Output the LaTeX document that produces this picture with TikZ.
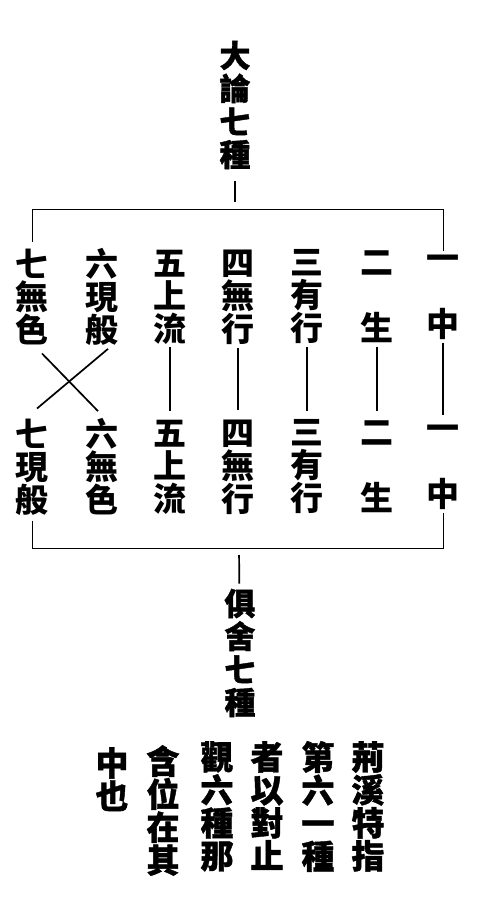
\documentclass[tikz,border=0pt]{standalone}
\usepackage{fontspec}
\newfontfamily\cjk{Noto Sans CJK TC}
\newfontfamily\cjkheavy[BoldFeatures={FakeBold=1.2}]{Noto Sans CJK TC}
\usetikzlibrary{positioning}
\setlength{\lineskiplimit}{-100pt}

\begin{document}
\begin{tikzpicture}[x=1pt, y=-1pt,
    word/.style={font=\cjk\bfseries\fontsize{33}{33}\selectfont, align=center, inner sep=0pt,
      execute at begin node=\vphantom{中}, execute at end node=\vphantom{中}},
    ttl/.style={word, font=\cjkheavy\bfseries\fontsize{31}{33}\selectfont},
    note/.style={word, font=\cjkheavy\bfseries\fontsize{33}{33}\selectfont, anchor=north},
    bar/.style={line width=1pt},
    link/.style={line width=1.7pt}]
    \useasboundingbox (0,0) rectangle (477,909);
    % Titles
    \node[ttl] (Top) at (235,105) {大\\論\\七\\種};
    \node[ttl] (Sub) at (240,653) {俱\\舍\\七\\種};
    % Upper row
    \node[word] (t1) at (32,297) {七\\無\\色};
    \node[word] (t2) at (102,297) {六\\現\\般};
    \node[word] (t3) at (170,297) {五\\上\\流};
    \node[word] (t4) at (238,297) {四\\無\\行};
    \node[word] (t5) at (307,297) {三\\有\\行};
    \node[word] (t6) at (377,297) {二\\\phantom{二}\\生};
    \node[word] (t7) at (443,297) {一\\\phantom{一}\\中};
    % Lower row
    \node[word] (b1) at (32,467) {七\\現\\般};
    \node[word] (b2) at (102,467) {六\\無\\色};
    \node[word] (b3) at (170,467) {五\\上\\流};
    \node[word] (b4) at (238,467) {四\\無\\行};
    \node[word] (b5) at (307,467) {三\\有\\行};
    \node[word] (b6) at (377,467) {二\\\phantom{二}\\生};
    \node[word] (b7) at (443,467) {一\\\phantom{一}\\中};
    % Note
    \node[note] (n1) at (368,741) {荊\\溪\\特\\指};
    \node[note] (n2) at (318,741) {第\\六\\一\\種};
    \node[note] (n3) at (267,741) {者\\以\\對\\止};
    \node[note] (n4) at (217,741) {觀\\六\\種\\那};
    \node[note] (n5) at (163,745) {含\\位\\在\\其};
    \node[note] (n6) at (112,747) {中\\也};
    % Draw brackets
    \coordinate (TopBar) at (235,210);
    \coordinate (BotBar) at (239,548);
    \draw[link, shorten <=12pt, shorten >=8pt] (Top) -- (TopBar);
    \draw[bar, shorten <=7pt, shorten >=3pt] (t1) -- (t1 |- TopBar) -- (t7 |- TopBar) -- (t7);
    \draw[bar, shorten <=5pt, shorten >=3pt] (b1) -- (b1 |- BotBar) -- (b7 |- BotBar) -- (b7);
    \draw[link, shorten <=7pt, shorten >=5pt] (BotBar) -- (Sub);
    % Draw links
    \foreach \i in {3,...,7}
      \draw[link, shorten <=3pt, shorten >=9pt] (t\i) -- (b\i);
    \draw[link] ([shift={(10,8)}]t1.south) -- ([shift={(-4,-7)}]b2.north);
    \draw[link] ([shift={(6,3)}]t2.south) -- ([shift={(5,-10)}]b1.north);
\end{tikzpicture}
\end{document}
